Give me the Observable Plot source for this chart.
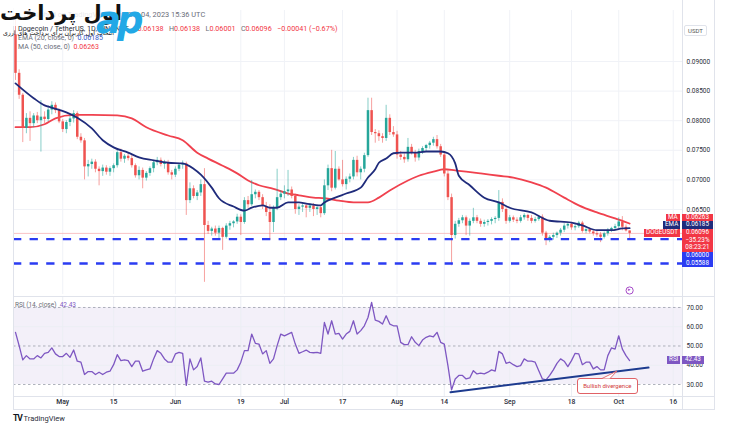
<!DOCTYPE html>
<html><head><meta charset="utf-8">
<script src="https://cdn.jsdelivr.net/npm/d3@7"></script>
<script src="https://cdn.jsdelivr.net/npm/@observablehq/plot@0.6"></script>
<style>
html,body{margin:0;padding:0;background:#fff;}
#wrap{position:relative;width:729px;height:433px;overflow:hidden;background:#fff;font-family:Roboto,"DejaVu Sans",sans-serif;}
.abs{position:absolute;white-space:nowrap;}
.tag{position:absolute;color:#fff;font-size:6.3px;line-height:7.67px;text-align:center;white-space:nowrap;}
.ln{position:absolute;background:#e0e3eb;}
</style></head><body><div id="wrap"></div>
<script>
// ---------------- DATA ----------------
const firstDay = "2023-04-18"; // one candle per day, Apr 18 .. Oct 4 2023
const open = [0.0945,0.0880,0.0843,0.0787,0.0804,0.0795,0.0808,0.0800,0.0806,0.0802,
0.0818,0.0826,0.0817,0.0798,0.0785,0.0797,0.0803,0.0812,0.0772,0.0766,
0.0722,0.0726,0.0730,0.0718,0.0714,0.0720,0.0713,0.0719,0.0724,0.0746,
0.0735,0.0740,0.0736,0.0724,0.0707,0.0716,0.0703,0.0711,0.0719,0.0729,
0.0733,0.0726,0.0729,0.0712,0.0708,0.0718,0.0725,0.0727,0.0665,0.0685,
0.0672,0.0678,0.0692,0.0623,0.0613,0.0617,0.0610,0.0618,0.0603,0.0622,
0.0626,0.0629,0.0637,0.0628,0.0665,0.0658,0.0675,0.0679,0.0670,0.0655,
0.0645,0.0628,0.0652,0.0670,0.0676,0.0680,0.0683,0.0672,0.0650,0.0654,
0.0656,0.0652,0.0656,0.0650,0.0653,0.0643,0.0690,0.0719,0.0686,0.0718,
0.0700,0.0692,0.0701,0.0705,0.0733,0.0712,0.0718,0.0741,0.0817,0.0780,
0.0778,0.0773,0.0770,0.0804,0.0780,0.0776,0.0742,0.0738,0.0734,0.0755,
0.0745,0.0737,0.0748,0.0753,0.0758,0.0762,0.0768,0.0756,0.0742,0.0710,
0.0670,0.0606,0.0625,0.0631,0.0636,0.0622,0.0630,0.0636,0.0630,0.0625,
0.0628,0.0630,0.0633,0.0635,0.0662,0.0650,0.0630,0.0636,0.0632,0.0630,
0.0636,0.0640,0.0635,0.0630,0.0633,0.0637,0.0610,0.0598,0.0603,0.0606,
0.0610,0.0615,0.0622,0.0625,0.0619,0.0621,0.0627,0.0613,0.0616,0.0612,
0.0609,0.0607,0.0603,0.0609,0.0615,0.0618,0.0621,0.0629,0.0620,0.06138];
const high = [0.0975,0.0886,0.0846,0.0812,0.0815,0.0812,0.0814,0.0834,0.0815,0.0825,
0.0832,0.0830,0.0820,0.0802,0.0800,0.0808,0.0817,0.0815,0.0778,0.0770,
0.0733,0.0735,0.0734,0.0722,0.0725,0.0724,0.0722,0.0727,0.0750,0.0752,
0.0743,0.0745,0.0742,0.0727,0.0722,0.0720,0.0714,0.0722,0.0733,0.0738,
0.0737,0.0733,0.0733,0.0716,0.0722,0.0728,0.0732,0.0730,0.0695,0.0690,
0.0682,0.0700,0.0719,0.0630,0.0620,0.0622,0.0622,0.0620,0.0626,0.0630,
0.0631,0.0642,0.0641,0.0670,0.0672,0.0699,0.0683,0.0682,0.0675,0.0662,
0.0658,0.0656,0.0718,0.0682,0.0690,0.0716,0.0688,0.0676,0.0658,0.0660,
0.0660,0.0660,0.0660,0.0657,0.0656,0.0700,0.0725,0.0750,0.0748,0.0722,
0.0733,0.0705,0.0710,0.0738,0.0740,0.0722,0.0745,0.0838,0.0838,0.0785,
0.0783,0.0778,0.0826,0.0810,0.0790,0.0782,0.0748,0.0744,0.0770,0.0760,
0.0750,0.0752,0.0756,0.0760,0.0765,0.0772,0.0775,0.0760,0.0745,0.0715,
0.0676,0.0630,0.0635,0.0640,0.0639,0.0634,0.0652,0.0640,0.0634,0.0632,
0.0633,0.0636,0.0638,0.0682,0.0668,0.0653,0.0640,0.0639,0.0636,0.0640,
0.0643,0.0642,0.0640,0.0637,0.0640,0.0641,0.0613,0.0606,0.0610,0.0612,
0.0618,0.0626,0.0628,0.0628,0.0626,0.0630,0.0630,0.0619,0.0619,0.0616,
0.0613,0.0611,0.0612,0.0618,0.0620,0.0625,0.0636,0.0638,0.0624,0.06138];
const low = [0.0868,0.0836,0.0763,0.0778,0.0765,0.0788,0.0795,0.0747,0.0795,0.0798,
0.0810,0.0812,0.0795,0.0780,0.0778,0.0790,0.0796,0.0768,0.0762,0.0700,
0.0705,0.0718,0.0712,0.0690,0.0706,0.0708,0.0706,0.0712,0.0720,0.0730,
0.0728,0.0732,0.0720,0.0703,0.0700,0.0685,0.0698,0.0706,0.0712,0.0724,
0.0722,0.0718,0.0708,0.0700,0.0704,0.0714,0.0718,0.0640,0.0660,0.0668,
0.0665,0.0672,0.0527,0.0608,0.0605,0.0605,0.0600,0.0581,0.0600,0.0615,
0.0619,0.0625,0.0606,0.0625,0.0652,0.0655,0.0668,0.0665,0.0650,0.0638,
0.0598,0.0611,0.0648,0.0665,0.0668,0.0672,0.0668,0.0642,0.0640,0.0645,
0.0636,0.0645,0.0638,0.0640,0.0636,0.0640,0.0682,0.0680,0.0683,0.0698,
0.0688,0.0683,0.0695,0.0700,0.0705,0.0700,0.0712,0.0738,0.0775,0.0762,
0.0765,0.0762,0.0765,0.0775,0.0772,0.0735,0.0733,0.0728,0.0730,0.0742,
0.0730,0.0732,0.0743,0.0748,0.0752,0.0757,0.0752,0.0738,0.0705,0.0665,
0.0555,0.0600,0.0620,0.0626,0.0606,0.0605,0.0626,0.0626,0.0620,0.0620,
0.0622,0.0624,0.0626,0.0630,0.0645,0.0625,0.0627,0.0628,0.0626,0.0627,
0.0632,0.0630,0.0626,0.0627,0.0630,0.0605,0.0589,0.0594,0.0598,0.0601,
0.0605,0.0611,0.0617,0.0615,0.0614,0.0618,0.0610,0.0609,0.0609,0.0605,
0.0603,0.0594,0.0600,0.0605,0.0611,0.0614,0.0617,0.0614,0.0612,0.06001];
const close = [0.0880,0.0843,0.0787,0.0804,0.0795,0.0808,0.0800,0.0806,0.0802,0.0818,
0.0826,0.0817,0.0798,0.0785,0.0797,0.0803,0.0812,0.0772,0.0766,0.0722,
0.0726,0.0730,0.0718,0.0714,0.0720,0.0713,0.0719,0.0724,0.0746,0.0735,
0.0740,0.0736,0.0724,0.0707,0.0716,0.0703,0.0711,0.0719,0.0729,0.0733,
0.0726,0.0729,0.0712,0.0708,0.0718,0.0725,0.0727,0.0665,0.0685,0.0672,
0.0678,0.0692,0.0623,0.0613,0.0617,0.0610,0.0618,0.0603,0.0622,0.0626,
0.0629,0.0637,0.0628,0.0665,0.0658,0.0675,0.0679,0.0670,0.0655,0.0645,
0.0628,0.0652,0.0670,0.0676,0.0680,0.0683,0.0672,0.0650,0.0654,0.0656,
0.0652,0.0656,0.0650,0.0653,0.0643,0.0690,0.0719,0.0686,0.0718,0.0700,
0.0692,0.0701,0.0705,0.0733,0.0712,0.0718,0.0741,0.0817,0.0780,0.0778,
0.0773,0.0770,0.0804,0.0780,0.0776,0.0742,0.0738,0.0734,0.0755,0.0745,
0.0737,0.0748,0.0753,0.0758,0.0762,0.0768,0.0756,0.0742,0.0710,0.0670,
0.0606,0.0625,0.0631,0.0636,0.0622,0.0630,0.0636,0.0630,0.0625,0.0628,
0.0630,0.0633,0.0635,0.0662,0.0650,0.0630,0.0636,0.0632,0.0630,0.0636,
0.0640,0.0635,0.0630,0.0633,0.0637,0.0610,0.0598,0.0603,0.0606,0.0610,
0.0615,0.0622,0.0625,0.0619,0.0621,0.0627,0.0613,0.0616,0.0612,0.0609,
0.0607,0.0603,0.0609,0.0615,0.0618,0.0621,0.0629,0.0620,0.06138,0.06096];
// EMA(20) and MA(50) (day offset from firstDay, value)
const emaDays = [0,5,8,10,14,17,21,24,27,31,34,38,42,46,49,51,54,56,60,63,65,68,70,72,75,78,80,84,85,88,91,95,97,99,100,102,104,106,110,113,117,119,121,122,125,129,133,136,142,147,153,156,160,164,167,169];
const emaVals = [0.0863,0.0838,0.0826,0.0822,0.0814,0.0805,0.0787,0.0767,0.0755,0.0746,0.0738,0.0733,0.0729,0.0728,0.0719,0.0709,0.0687,0.0669,0.0655,0.0648,0.0653,0.0657,0.0653,0.0653,0.0662,0.0662,0.0660,0.0657,0.0662,0.0670,0.0677,0.0687,0.0704,0.0718,0.0729,0.0736,0.0745,0.0746,0.0746,0.0748,0.0748,0.0745,0.0728,0.0707,0.0691,0.0670,0.0662,0.0653,0.0645,0.0631,0.0628,0.0623,0.0615,0.0615,0.0618,0.06185];
const maDays = [0,4,8,11,16,21,28,32,36,42,46,50,53,57,61,64,67,71,75,78,82,85,89,93,97,100,103,108,111,115,118,121,124,128,133,137,142,146,151,155,160,165,169];
const maVals = [0.0789,0.0789,0.0794,0.0804,0.0810,0.0810,0.0809,0.0804,0.0789,0.0775,0.0767,0.0746,0.0736,0.0724,0.0711,0.0699,0.0691,0.0685,0.0677,0.0674,0.0670,0.0669,0.0665,0.0662,0.0662,0.0670,0.0682,0.0699,0.0707,0.0714,0.0718,0.0716,0.0714,0.0711,0.0707,0.0704,0.0696,0.0687,0.0670,0.0657,0.0645,0.0635,0.06263];
// RSI(14), one value per candle
const rsi = [57.1,50.2,42.8,45.0,43.3,43.3,45.0,43.8,46.2,46.7,
49.0,45.9,44.5,44.5,46.2,44.1,47.9,42.1,41.6,35.2,
36.7,36.7,35.2,36.4,35.2,36.4,36.9,40.3,45.5,42.4,
42.8,42.4,39.3,42.1,42.1,36.9,37.6,38.1,43.3,47.6,
46.2,43.3,41.6,41.6,45.9,46.7,46.2,29.5,43.3,37.6,
39.3,43.8,31.7,31.2,31.7,30.3,30.0,32.9,35.9,35.9,
35.9,37.6,41.6,47.6,47.6,56.2,51.4,51.0,45.9,47.6,
41.0,43.3,50.2,56.2,55.3,56.2,57.1,51.0,46.2,47.0,
47.9,46.7,46.5,46.7,46.2,62.2,56.2,63.1,56.2,56.6,
53.6,56.2,57.6,63.1,56.2,58.0,60.5,64.8,72.6,63.4,
62.8,61.4,65.7,61.4,60.5,60.5,51.9,50.7,50.7,54.8,
51.9,50.2,53.1,54.5,55.3,54.8,57.1,51.9,51.0,39.8,
27.2,32.9,34.7,34.7,32.9,33.4,37.2,35.5,35.9,35.5,
36.4,37.6,37.0,47.2,45.9,41.0,41.6,40.3,39.3,39.8,
43.3,42.1,42.1,41.6,37.2,32.9,32.4,34.7,37.6,41.0,
43.3,42.1,39.3,42.4,46.2,45.9,40.3,41.6,41.6,38.1,
39.3,37.6,37.6,45.0,49.0,48.4,55.3,48.4,45.0,42.43];
// Bullish divergence trend line on RSI (day offset, rsi)
const trendDays = [119.7, 174.2];
const trendRsi = [26.0, 38.8];
const supportLevels = [0.06000, 0.05588];
const priceTicks = [0.065, 0.070, 0.075, 0.080, 0.085, 0.090];
const rsiTicks = [30, 40, 50, 60, 70];
const rsiDashed = [30, 50, 70];
const tickDates = ["2023-05-01","2023-05-15","2023-06-01","2023-06-19","2023-07-01","2023-07-17","2023-08-01","2023-08-14","2023-09-01","2023-09-18","2023-10-01","2023-10-16"];
const tickLabels = ["May","15","Jun","19","Jul","17","Aug","14","Sep","18","Oct","16"];
const headerTime = "published on TradingView.com, Oct 04, 2023 15:36 UTC";
const symbolTitle = "Dogecoin / TetherUS, 1D, BINANCE";
const ohlcLast = {O:"0.06138", H:"0.06138", L:"0.06001", C:"0.06096"};
const changeText = "−0.00041 (−0.67%)";
const tagChange = "−35.23%";
const tagCountdown = "08:23:21";

// ---------------- BUILD ----------------
const DAY = 864e5;
const start = new Date(firstDay + "T00:00:00Z");
const dayDate = d => new Date(+start + d * DAY);
const candles = open.map((o, i) => ({date: dayDate(i), open: o, high: high[i], low: low[i], close: close[i]}));
const emaData = emaDays.map((d, i) => ({date: dayDate(d), value: emaVals[i]}));
const maData = maDays.map((d, i) => ({date: dayDate(d), value: maVals[i]}));
const rsiData = rsi.map((v, i) => ({date: dayDate(i), value: v}));
const trendData = trendDays.map((d, i) => ({date: dayDate(d), value: trendRsi[i]}));
const tDates = tickDates.map(s => new Date(s + "T00:00:00Z"));
const labelOf = new Map(tDates.map((d, i) => [+d, tickLabels[i]]));
const xDomain = [dayDate(-0.55), dayDate(183.55)];

const UP = "#26a69a", DOWN = "#ef5350", RED = "#f23645", NAVY = "#1f2b7b", BLUE = "#2b3cf2", PURPLE = "#7e57c2";
const colorOf = d => d.close >= d.open ? UP : DOWN;
const W = 729, ML = 13, MR = 47;
const baseStyle = {background: "transparent", fontFamily: "Roboto, sans-serif", fontSize: "7px", color: "#2a2e39", overflow: "visible"};

const main = Plot.plot({
  width: W, height: 296, marginTop: 10, marginBottom: 2, marginLeft: ML, marginRight: MR,
  x: {type: "utc", domain: xDomain, axis: null},
  y: {domain: [0.050642, 0.098615], label: null},
  style: baseStyle,
  marks: [
    Plot.ruleX(tDates, {stroke: "#f0f2f7", strokeWidth: 1}),
    Plot.ruleY(priceTicks, {stroke: "#f0f2f7", strokeWidth: 1}),
    Plot.axisY({ticks: priceTicks, anchor: "right", label: null, tickSize: 0, tickPadding: 4, tickFormat: d3.format(".5f"), fill: "#2a2e39", fontSize: 6.5}),
    Plot.ruleY([close[close.length - 1]], {stroke: "#f7b4b8", strokeWidth: 0.8}),
    Plot.line(maData, {x: "date", y: "value", stroke: "#f0414e", strokeWidth: 1.8, curve: "monotone-x"}),
    Plot.ruleX(candles, {x: "date", y1: "low", y2: "high", stroke: colorOf, strokeOpacity: 0.55, strokeWidth: 1, clip: true}),
    Plot.ruleX(candles, {x: "date", y1: "open", y2: "close", stroke: colorOf, strokeWidth: 2.5, clip: true}),
    Plot.line(emaData, {x: "date", y: "value", stroke: NAVY, strokeWidth: 1.8, curve: "monotone-x"}),
    Plot.ruleY(supportLevels, {stroke: BLUE, strokeWidth: 2.4, strokeDasharray: "8.3,8.3"}),
    Plot.dot([candles[candles.length - 1]], {x: "date", frameAnchor: "bottom", dy: -4, r: 3.6, stroke: "#a64bc9", strokeWidth: 1, fill: "#fff"}),
    Plot.text([candles[candles.length - 1]], {x: "date", frameAnchor: "bottom", dy: -4, text: () => "▸", fill: "#a64bc9", fontSize: 5})
  ]
});

const rsiPlot = Plot.plot({
  width: W, height: 113, marginTop: 0, marginBottom: 13, marginLeft: ML, marginRight: MR,
  x: {type: "utc", domain: xDomain, label: null},
  y: {domain: [23.77, 75.71], label: null},
  style: baseStyle,
  marks: [
    Plot.rect([0], {x1: () => xDomain[0], x2: () => xDomain[1], y1: () => 30, y2: () => 70, fill: PURPLE, fillOpacity: 0.09}),
    Plot.ruleX(tDates, {stroke: "#eceef4", strokeWidth: 1}),
    Plot.ruleY([40, 60], {stroke: "#eceef4", strokeWidth: 1}),
    Plot.ruleY(rsiDashed, {stroke: "#9aa0ab", strokeWidth: 0.8, strokeDasharray: "2.5,2.5"}),
    Plot.axisY({ticks: rsiTicks, anchor: "right", label: null, tickSize: 0, tickPadding: 4, tickFormat: d3.format(".2f"), fill: "#2a2e39", fontSize: 6.5}),
    Plot.axisX({ticks: tDates, anchor: "bottom", label: null, tickSize: 0, tickPadding: 2.5, tickFormat: d => labelOf.get(+d), fill: "#2a2e39", fontSize: 6.8, fontWeight: 500}),
    Plot.line(rsiData, {x: "date", y: "value", stroke: PURPLE, strokeWidth: 1.3}),
    Plot.line(trendData, {x: "date", y: "value", stroke: "#1d3b8f", strokeWidth: 2})
  ]
});

const wrap = document.getElementById("wrap");
function place(el, left, top) { el.style.position = "absolute"; el.style.left = left + "px"; el.style.top = top + "px"; wrap.appendChild(el); return el; }
function div(html, cls, css) { const e = document.createElement("div"); if (cls) e.className = cls; e.innerHTML = html; Object.assign(e.style, css || {}); return e; }
function line(l, t, w, h) { place(div("", "ln", {width: w + "px", height: h + "px"}), l, t); }

place(main, 0, 0);
const RSI_TOP = 296;
place(rsiPlot, 0, RSI_TOP);

// frame lines
line(682, 0, 1, 409); line(714, 0, 1, 409); line(13, 8, 1, 401);
line(13, RSI_TOP, 702, 1); line(13, 396, 702, 1); line(13, 409, 702, 1);

const xS = main.scale("x"), yS = main.scale("y"), yR = rsiPlot.scale("y");
const f5 = d3.format(".5f");

// header legend
const gray = "#6a6d78";
place(div(headerTime, "abs", {fontSize: "7.4px", color: gray}), 24, 10);
place(div(`<span style="color:#2a2e39">${symbolTitle}</span>&nbsp; O<span style="color:${RED}">${ohlcLast.O}</span>&nbsp;&nbsp; H<span style="color:${RED}">${ohlcLast.H}</span>&nbsp;&nbsp; L<span style="color:${RED}">${ohlcLast.L}</span>&nbsp;&nbsp; C<span style="color:${RED}">${ohlcLast.C}</span>&nbsp;&nbsp; <span style="color:${RED}">${changeText}</span>`, "abs", {fontSize: "7.2px", color: gray}), 18, 24);
place(div(`EMA (20, close, 0)&nbsp; <span style="color:#3056c8">${f5(emaVals[emaVals.length - 1])}</span>`, "abs", {fontSize: "7px", color: gray}), 18, 34);
place(div(`MA (50, close, 0)&nbsp; <span style="color:${RED}">${f5(maVals[maVals.length - 1])}</span>`, "abs", {fontSize: "7px", color: gray}), 18, 43);

// watermark logo (over header)
place(div("اول پرداخت", "abs", {fontFamily: "'DejaVu Sans'", fontWeight: "bold", fontSize: "21px", color: "#111", lineHeight: "25px", background: "rgba(255,255,255,0.85)", direction: "rtl", paddingRight: "2px"}), 0, 1);
place(div("انتخاب اول کاربران برای پرداخت های ارزی", "abs", {fontFamily: "'DejaVu Sans'", fontSize: "6.2px", color: "#111", direction: "rtl", lineHeight: "8px"}), 3, 29);
const apSvg = document.createElementNS("http://www.w3.org/2000/svg", "svg");
apSvg.setAttribute("width", "90"); apSvg.setAttribute("height", "52");
apSvg.style.overflow = "visible";
apSvg.innerHTML = `<text x="2" y="33" font-family="DejaVu Sans" font-weight="bold" font-style="italic" font-size="37" fill="#22a8e6" letter-spacing="-4">ap</text>`;
place(apSvg, 94, 0);

// USDT box
place(div("USDT", "abs", {fontSize: "6px", color: "#555", border: "1px solid #e0e3eb", borderRadius: "2px", padding: "1px 3px", background: "#fff"}), 684, 25);

// price tags with simple stacking around the last-price tag
const LH = 7.67;
const lastClose = close[close.length - 1];
const anchorTag = {value: lastClose, name: "DOGEUSDT", color: RED, lines: [f5(lastClose), tagChange, tagCountdown]};
anchorTag.top = yS.apply(lastClose) - LH / 2; anchorTag.h = LH * 3;
const aboveTags = [
  {value: emaVals[emaVals.length - 1], name: "EMA", color: NAVY},
  {value: maVals[maVals.length - 1], name: "MA", color: RED}
];
let lim = anchorTag.top;
for (const t of aboveTags) { t.lines = [f5(t.value)]; t.h = LH; t.top = Math.min(yS.apply(t.value) - LH / 2, lim - LH); lim = t.top; }
const belowTags = supportLevels.map(v => ({value: v, color: BLUE, lines: [f5(v)], h: LH}));
lim = anchorTag.top + anchorTag.h;
for (const t of belowTags) { t.top = Math.max(yS.apply(t.value) - LH / 2, lim); lim = t.top + LH; }
for (const t of [anchorTag, ...aboveTags, ...belowTags]) {
  place(div(t.lines.join("<br>"), "tag", {background: t.color, width: "31px", height: t.h + "px"}), 682, t.top);
  if (t.name) {
    const e = div(t.name, "tag", {background: t.color, padding: "0 2px", height: LH + "px"});
    place(e, 0, t.top);
    e.style.left = (680 - e.offsetWidth) + "px";
  }
}

// RSI legend and tags
place(div(`RSI (14, close)&nbsp; <span style="color:${PURPLE}">${rsi[rsi.length - 1].toFixed(2)}</span>`, "abs", {fontSize: "6.5px", color: gray}), 15, RSI_TOP + 5);
const rsiY = RSI_TOP + yR.apply(rsi[rsi.length - 1]) - LH / 2;
place(div(rsi[rsi.length - 1].toFixed(2), "tag", {background: PURPLE, width: "22px", height: LH + "px"}), 682, rsiY);
{ const e = div("RSI", "tag", {background: PURPLE, padding: "0 2px", height: LH + "px"}); place(e, 0, rsiY); e.style.left = (680 - e.offsetWidth) + "px"; }

// Bullish divergence callout
const bx = xS.apply(dayDate(163)), by = RSI_TOP + yR.apply(29);
place(div("Bullish divergence", "abs", {fontSize: "6px", color: "#d23a3a", border: "1px solid #e06166", borderRadius: "3px", background: "rgba(255,255,255,0.9)", width: "59px", height: "14px", lineHeight: "14px", textAlign: "center"}), bx - 30.5, by - 8);
const ptr = document.createElementNS("http://www.w3.org/2000/svg", "svg");
ptr.setAttribute("width", "20"); ptr.setAttribute("height", "10");
ptr.innerHTML = `<path d="M1,8.5 L16,1 L9,8.5" fill="#fff" stroke="#e06166" stroke-width="0.9"/>`;
place(ptr, bx - 6, by - 16);

// TradingView mark
place(div(`<b style="font-size:8.5px;letter-spacing:-1px;color:#131722">TV</b> <span style="color:#2a2e39">TradingView</span>`, "abs", {fontSize: "7.5px"}), 13, 413);
</script></body></html>
